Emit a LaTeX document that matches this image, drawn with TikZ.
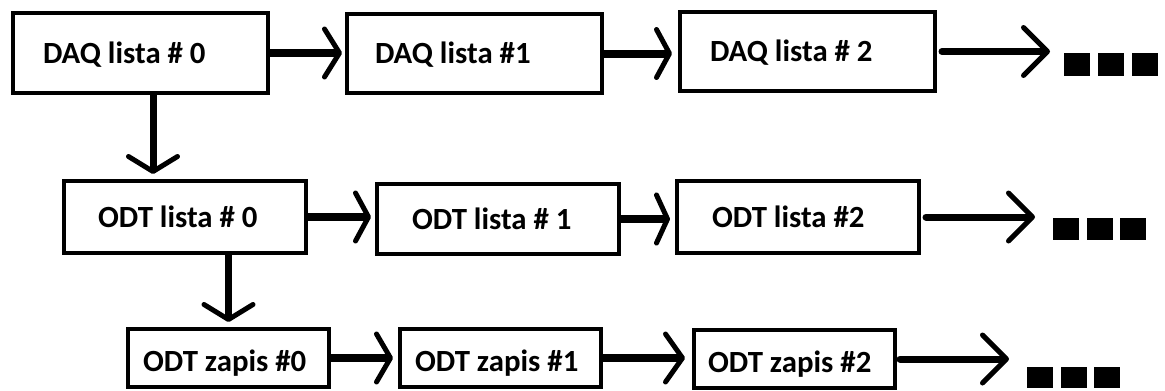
\documentclass[tikz,border=0pt]{standalone}
\usepackage{fontspec}
\setmainfont{Carlito}
\usetikzlibrary{arrows.meta}
\begin{document}
\begin{tikzpicture}[x=1pt,y=-1pt,
  box/.style={draw, line width=4pt, rectangle, inner ysep=0pt, text height=20pt, text depth=0pt,
    font=\fontsize{30.8}{36}\selectfont\bfseries},
  harrow/.style={line width=8pt, -{Straight Barb[length=#1, width=48pt, line width=5pt, round]}},
  larrow/.style={line width=7pt, line cap=round, -{Straight Barb[length=24pt, width=48pt, line width=5pt, round]}},
  varrow/.style={line width=7pt, -{Straight Barb[length=15pt, width=49pt, line width=5pt, round]}},
  sq/.style={fill, inner sep=0pt, minimum width=26pt, minimum height=#1},
]
\useasboundingbox (0,0) rectangle (1165,391);

% row 1
\node[box, inner xsep=30pt, minimum height=80pt] (A) at (140.5,53) {\makebox[195pt][l]{DAQ lista \# 0}};
\node[box, inner xsep=28pt, minimum height=79pt] (B) at (474.5,53.5) {\makebox[199pt][l]{DAQ lista \#1}};
\node[box, inner xsep=30pt, minimum height=79pt] (C) at (807.5,51.5) {\makebox[195pt][l]{DAQ lista \# 2}};
% row 2
\node[box, inner xsep=34pt, minimum height=72pt] (D) at (185,217) {\makebox[174pt][l]{ODT lista \# 0}};
\node[box, inner xsep=35pt, minimum height=70pt] (E) at (498,219) {\makebox[172pt][l]{ODT lista \# 1}};
\node[box, inner xsep=35pt, minimum height=72pt] (F) at (798,217) {\makebox[172pt][l]{ODT lista \#2}};
% row 3
\node[box, text height=26pt, inner xsep=15pt, minimum height=58pt] (G) at (228.5,358) {\makebox[171pt][l]{ODT zapis \#0}};
\node[box, text height=26pt, inner xsep=15pt, minimum height=58pt] (H) at (500.5,358) {\makebox[171pt][l]{ODT zapis \#1}};
\node[box, text height=26pt, inner xsep=14pt, minimum height=58pt] (I) at (794.5,359) {\makebox[173pt][l]{ODT zapis \#2}};

% continuation marks
\coordinate (c1) at (1050,52);
\coordinate (c2) at (1035,218);
\coordinate (c3) at (1009,359);
\node[sq=23pt] (s11) at (1077,64.5) {};
\node[sq=23pt] (s12) at (1110.5,64.5) {};
\node[sq=23pt] (s13) at (1144.5,64.5) {};
\node[sq=22pt] (s21) at (1065.5,229) {};
\node[sq=22pt] (s22) at (1100,229) {};
\node[sq=22pt] (s23) at (1133,229) {};
\node[sq=21pt] (s31) at (1040,377.5) {};
\node[sq=21pt] (s32) at (1074,377.5) {};
\node[sq=21pt] (s33) at (1107,377.5) {};

% horizontal connectors
\draw[harrow=15pt, shorten >=3pt] (A.east) -- (A.east -| B.west);
\draw[harrow=13pt, shorten >=6pt] (B.east) -- (B.east -| C.west);
\draw[harrow=13pt, shorten >=4pt] (D.east) -- (D.east -| E.west);
\draw[harrow=11pt, shorten >=5pt] (E.east) -- (E.east -| F.west);
\draw[harrow=14pt, shorten >=5pt] (G.east) -- (G.east -| H.west);
\draw[harrow=17pt, shorten >=7pt] (H.east) -- (H.east -| I.west);
\draw[larrow, shorten <=5pt] (C.east) -- (C.east -| c1);
\draw[larrow, shorten <=5pt] (F.east) -- (F.east -| c2);
\draw[larrow, shorten <=3pt] (I.east) -- (I.east -| c3);

% vertical connectors
\draw[varrow, shorten >=5pt] ([xshift=12.5pt]A.south) -- ([xshift=12.5pt]A.south |- D.north);
\draw[varrow, shorten >=5pt] (D.south -| G.north) -- (G.north);
\end{tikzpicture}
\end{document}
